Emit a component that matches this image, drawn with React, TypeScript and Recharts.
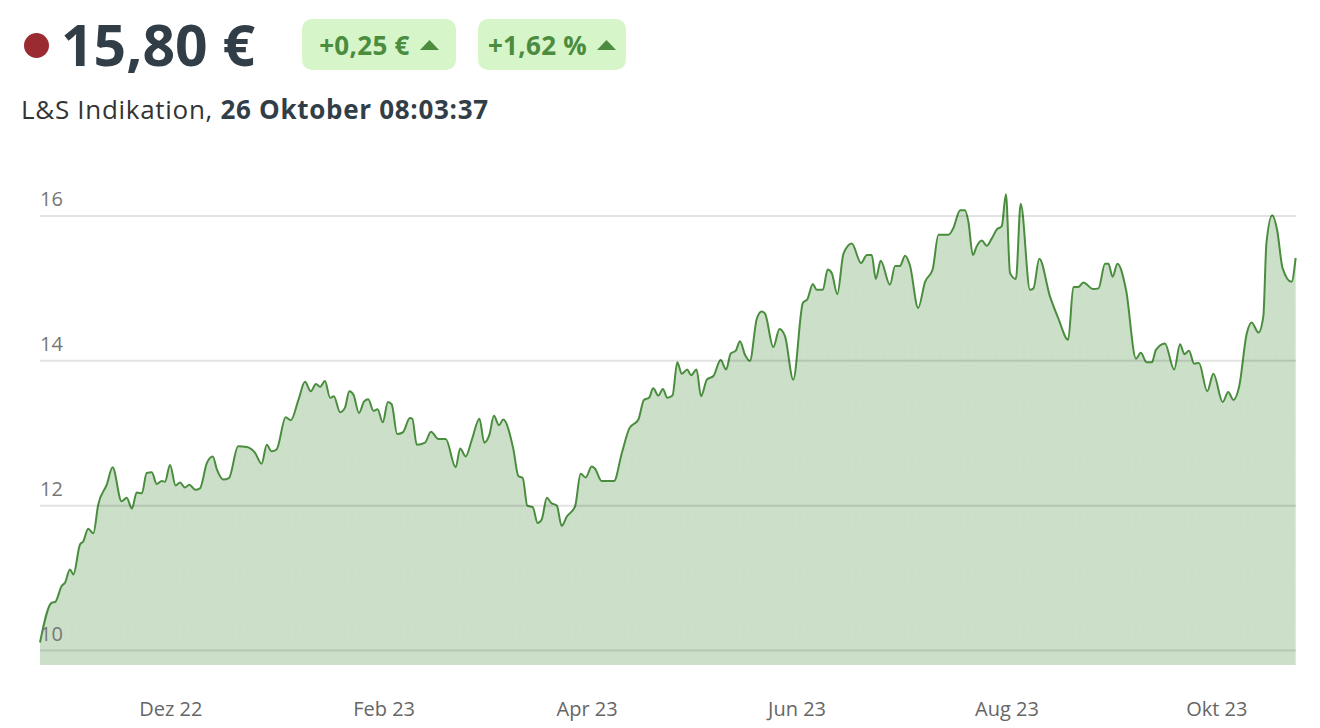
import React from 'react';
import { AreaChart, Area, XAxis, YAxis, ReferenceLine } from 'recharts';

// days since 24 Oct 2022
const days = [
  0, 3.4, 4.4, 6.3, 7.3, 8.7, 9.7, 11.6, 12.6, 14.0, 15.5, 16.9, 19.4, 21.1, 23.7, 25.2, 26.7, 28.1, 29.6, 31.0,
  32.5, 33.9, 35.4, 36.3, 37.8, 39.4, 40.7, 42.1, 43.4, 45.1, 46.5, 48.5, 50.2, 51.4, 53.3, 54.9, 57.6, 60.1, 62.5, 64.4,
  65.9, 67.3, 68.8, 71.4, 72.9, 75.1, 77.0, 78.7, 80.2, 81.4, 82.8, 84.3, 85.4, 87.2, 88.6, 89.9, 91.1, 92.7, 94.2, 95.4,
  96.9, 98.1, 99.6, 101.1, 102.2, 103.8, 105.4, 107.5, 108.2, 109.5, 111.9, 113.6, 115.8, 117.9, 120.8, 122.1, 123.7, 125.5, 127.7, 129.1,
  130.6, 131.9, 133.4, 134.6, 137.6, 139.0, 140.3, 141.6, 143.2, 144.6, 145.8, 147.3, 148.5, 150.2, 151.6, 153.1, 155.5, 157.1, 158.6, 160.3,
  161.3, 163.2, 166.8, 169.1, 171.3, 173.9, 175.5, 177.0, 178.2, 179.7, 181.0, 182.3, 183.8, 185.2, 186.5, 188.1, 189.2, 190.8, 192.1, 193.8,
  195.7, 197.8, 199.4, 200.7, 202.2, 203.4, 204.9, 206.3, 208.3, 209.7, 210.7, 213.1, 214.9, 216.5, 218.9, 221.7, 223.0, 224.6, 225.7, 227.5,
  228.9, 230.1, 231.7, 233.5, 235.9, 238.6, 240.3, 241.7, 242.9, 244.3, 247.0, 248.5, 249.9, 251.4, 252.8, 255.2, 257.2, 259.4, 261.1, 264.0,
  265.4, 267.4, 268.8, 269.8, 271.1, 272.2, 273.7, 275.1, 276.6, 278.0, 279.5, 280.7, 281.9, 283.6, 285.0, 287.7, 288.7, 290.4, 293.5, 295.9,
  298.8, 300.3, 301.7, 303.2, 306.1, 307.6, 309.5, 310.5, 311.7, 313.1, 315.6, 318.5, 319.9, 321.6, 323.1, 324.3, 326.9, 329.6, 331.3, 332.6,
  333.9, 335.4, 336.8, 339.2, 341.0, 343.7, 345.3, 346.8, 348.5, 350.7, 352.1, 354.1, 355.5, 356.4, 358.1, 359.5, 361.1, 363.7, 364.9,
];

const prices = [
  10.11, 10.66, 10.67, 10.89, 10.94, 11.12, 11.05, 11.46, 11.51, 11.68, 11.62, 12.01, 12.29, 12.53, 12.06, 12.11, 11.96, 12.18, 12.17, 12.45,
  12.46, 12.30, 12.34, 12.33, 12.56, 12.28, 12.32, 12.25, 12.29, 12.22, 12.24, 12.59, 12.68, 12.50, 12.36, 12.38, 12.82, 12.81, 12.73, 12.58,
  12.84, 12.75, 12.78, 13.22, 13.18, 13.46, 13.71, 13.58, 13.68, 13.64, 13.72, 13.49, 13.51, 13.29, 13.35, 13.58, 13.53, 13.28, 13.44, 13.47,
  13.31, 13.33, 13.15, 13.43, 13.40, 12.99, 13.01, 13.21, 13.20, 12.84, 12.87, 13.02, 12.92, 12.92, 12.53, 12.79, 12.68, 12.91, 13.20, 12.87,
  12.98, 13.24, 13.11, 13.19, 12.77, 12.41, 12.38, 12.00, 11.98, 11.76, 11.81, 12.11, 12.04, 12.00, 11.72, 11.85, 11.99, 12.44, 12.39, 12.54,
  12.51, 12.34, 12.34, 12.73, 13.07, 13.19, 13.46, 13.49, 13.62, 13.52, 13.61, 13.49, 13.52, 13.98, 13.82, 13.88, 13.80, 13.88, 13.51, 13.74,
  13.79, 14.01, 13.88, 14.10, 14.14, 14.27, 14.08, 14.00, 14.58, 14.68, 14.65, 14.19, 14.44, 14.34, 13.74, 14.80, 14.85, 15.06, 14.98, 14.98,
  15.26, 15.21, 14.92, 15.48, 15.62, 15.35, 15.46, 15.46, 15.13, 15.38, 15.05, 15.31, 15.31, 15.45, 15.32, 14.73, 15.09, 15.26, 15.74, 15.74,
  15.83, 16.08, 16.08, 15.92, 15.46, 15.58, 15.66, 15.59, 15.69, 15.81, 15.86, 16.30, 15.21, 15.13, 16.17, 14.98, 15.00, 15.41, 14.89, 14.59,
  14.29, 15.02, 15.02, 15.08, 14.99, 15.00, 15.34, 15.34, 15.16, 15.34, 14.98, 14.03, 14.11, 13.98, 13.98, 14.15, 14.24, 13.88, 14.23, 14.09,
  14.14, 13.96, 13.97, 13.58, 13.82, 13.43, 13.57, 13.46, 13.65, 14.38, 14.53, 14.39, 14.61, 15.62, 16.01, 15.81, 15.28, 15.09, 15.42,
];

const xTickDays = [38, 100, 159, 220, 281, 342];
const xTickLabels = ['Dez 22', 'Feb 23', 'Apr 23', 'Jun 23', 'Aug 23', 'Okt 23'];
const yTicks = [10, 12, 14, 16];

const data = days.map((d, i) => ({ day: d, price: prices[i] }));

const FONT = '"Open Sans", "Noto Sans", sans-serif';

const XTick = (props: any) => {
  const { x, y, payload } = props;
  const idx = xTickDays.indexOf(payload.value);
  return (
    <text x={x} y={y + 43} textAnchor="middle" fontSize={20} fill="#666" fontFamily={FONT}>
      {idx >= 0 ? xTickLabels[idx] : ''}
    </text>
  );
};

const makeYLabel = (value: number) => (props: any) => {
  const vb = props.viewBox || {};
  return (
    <text x={vb.x} y={vb.y - 10} textAnchor="start" fontSize={20} fill="#777" fontFamily={FONT}>
      {value}
    </text>
  );
};

const Triangle = () => (
  <svg width="19" height="12" viewBox="0 0 19 12" style={{ marginLeft: 10 }}>
    <polygon points="0,11 9.5,1 19,11" fill="#4c8c3f" />
  </svg>
);

const badgeStyle: React.CSSProperties = {
  position: 'absolute',
  top: 19,
  height: 51,
  background: '#d6f5c9',
  borderRadius: 10,
  display: 'flex',
  alignItems: 'center',
  justifyContent: 'center',
  color: '#4c8c3f',
  fontWeight: 700,
  fontSize: 26,
  fontFamily: FONT,
  letterSpacing: 0.3,
};

export default function App() {
  return (
    <div style={{ position: 'absolute', left: 0, top: 0, width: 1320, height: 728, background: '#fff', overflow: 'hidden' }}>
      <div style={{ position: 'absolute', left: 24, top: 33, width: 25, height: 25, borderRadius: '50%', background: '#9a2b30' }} />
      <div
        style={{
          position: 'absolute',
          left: 61,
          top: 4,
          fontFamily: FONT,
          fontWeight: 700,
          fontSize: 57,
          color: '#323e47',
          letterSpacing: 0,
          lineHeight: '80px',
        }}
      >
        15,80 €
      </div>
      <div style={{ ...badgeStyle, left: 302, width: 154 }}>
        +0,25 € <Triangle />
      </div>
      <div style={{ ...badgeStyle, left: 478, width: 148 }}>
        +1,62 % <Triangle />
      </div>
      <div
        style={{
          position: 'absolute',
          left: 21,
          top: 91,
          fontFamily: FONT,
          fontSize: 26,
          color: '#333',
          lineHeight: '36px',
          letterSpacing: 0.7,
        }}
      >
        L&amp;S Indikation, <span style={{ fontWeight: 700, color: '#323e47' }}>26 Oktober 08:03:37</span>
      </div>
      <div style={{ position: 'absolute', left: 0, top: 0 }}>
        <AreaChart
          width={1320}
          height={728}
          data={data}
          margin={{ top: 190.6, right: 24, bottom: 33, left: 40 }}
        >
          <defs>
            <pattern id="dots" width="7" height="7" patternUnits="userSpaceOnUse">
              <rect width="7" height="7" fill="#72a86a" />
              <circle cx="2" cy="2" r="0.7" fill="#5d9655" />
            </pattern>
          </defs>
          <XAxis
            dataKey="day"
            type="number"
            domain={[0, 365]}
            ticks={xTickDays}
            axisLine={false}
            tickLine={false}
            height={30}
            tick={<XTick />}
            interval={0}
          />
          <YAxis type="number" domain={[9.8, 16.35]} ticks={yTicks} hide width={0} />
          <Area
            type="monotone"
            dataKey="price"
            baseValue="dataMin"
            stroke="#4a8d3e"
            strokeWidth={2}
            fill="url(#dots)"
            fillOpacity={0.36}
            isAnimationActive={false}
            dot={false}
            activeDot={false}
          />
          {yTicks.map((t) => (
            <ReferenceLine
              key={t}
              y={t}
              stroke="rgba(0,0,0,0.11)"
              strokeWidth={2}
              label={makeYLabel(t)}
            />
          ))}
        </AreaChart>
      </div>
    </div>
  );
}
